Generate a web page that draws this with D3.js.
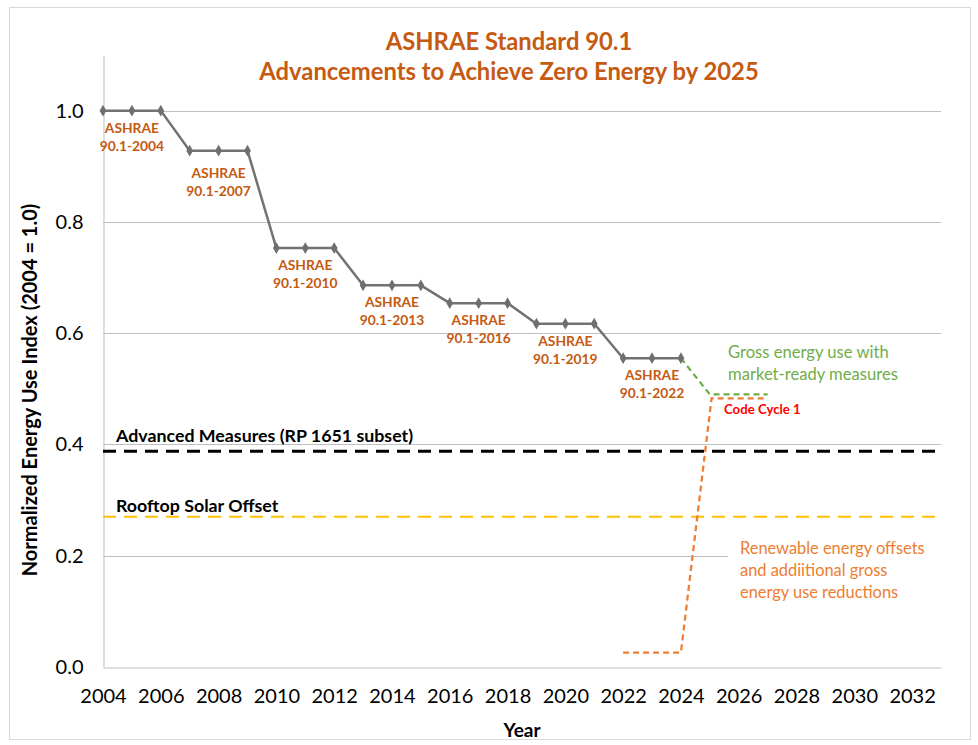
<!DOCTYPE html>
<html>
<head>
<meta charset="utf-8">
<script src="https://cdn.jsdelivr.net/npm/d3@7"></script>
<style>
  body { margin: 0; background: #fff; }
  svg { display: block; font-family: Lato, "Open Sans", sans-serif; }
</style>
</head>
<body>
<svg width="978" height="745"></svg>
<script>
// ASHRAE 90.1 stepped index, one point per year
var years = [2004, 2005, 2006, 2007, 2008, 2009, 2010, 2011, 2012, 2013, 2014,
             2015, 2016, 2017, 2018, 2019, 2020, 2021, 2022, 2023, 2024];
var euiValues = [1.0, 1.0, 1.0, 0.928, 0.928, 0.928, 0.753, 0.753, 0.753,
                 0.686, 0.686, 0.686, 0.654, 0.654, 0.654, 0.617, 0.617, 0.617,
                 0.555, 0.555, 0.555];

// standard labels, placed under the middle year of each step
var standardNames = ["90.1-2004", "90.1-2007", "90.1-2010", "90.1-2013",
                     "90.1-2016", "90.1-2019", "90.1-2022"];
var standardYears = [2005, 2008, 2011, 2014, 2017, 2020, 2023];
var standardValues = [1.0, 0.928, 0.753, 0.686, 0.654, 0.617, 0.555];

// gross energy use with market-ready measures (green)
var grossYears = [2024, 2025, 2027];
var grossValues = [0.555, 0.490, 0.490];

// renewable offsets (orange)
var offsetYears = [2022, 2024, 2025.06, 2026.9];
var offsetValues = [0.026, 0.026, 0.483, 0.483];

// horizontal reference lines
var advancedValue = 0.388;
var solarValue = 0.27;

var xTicks = [2004, 2006, 2008, 2010, 2012, 2014, 2016, 2018, 2020, 2022,
              2024, 2026, 2028, 2030, 2032];
var yTicks = [0, 0.2, 0.4, 0.6, 0.8, 1.0];

(() => {
    var svg = d3.select("svg");
    var margin = { top: 55, bottom: 78, left: 103, right: 37 };
    var width = 978, height = 745;

    var x = d3.scaleLinear().domain([2004, 2033]).range([margin.left, width - margin.right]);
    var y = d3.scaleLinear().domain([0, 1.1]).range([height - margin.bottom, margin.top]);

    var orange = "#C55A11";

    // chart border
    svg.append("rect")
        .attr("x", 9.5).attr("y", 7.5)
        .attr("width", 961).attr("height", 732)
        .attr("fill", "none")
        .attr("stroke", "#D9D9D9");

    // gridlines
    svg.append("g")
        .selectAll("line")
        .data(yTicks.filter(function (d) { return d > 0; }))
        .enter().append("line")
        .attr("x1", x(2004)).attr("x2", x(2033))
        .attr("y1", function (d) { return Math.round(y(d)) + 0.5; })
        .attr("y2", function (d) { return Math.round(y(d)) + 0.5; })
        .attr("stroke", "#BFBFBF")
        .attr("stroke-width", 1);

    // X axis
    var xAxis = svg.append("g")
        .attr("transform", "translate(0," + (Math.round(y(0)) + 0.5) + ")")
        .call(d3.axisBottom(x).tickValues(xTicks).tickFormat(d3.format("d")).tickSize(0).tickPadding(21));
    xAxis.select(".domain").attr("stroke", "#BFBFBF");
    xAxis.selectAll("text").attr("font-size", "20px").attr("fill", "#000")
        .attr("font-family", "Lato");

    // Y axis
    var yAxis = svg.append("g")
        .attr("transform", "translate(" + (Math.round(x(2004)) + 0.5) + ",0)")
        .call(d3.axisLeft(y).tickValues(yTicks).tickFormat(d3.format(".1f")).tickSize(0).tickPadding(20));
    yAxis.select(".domain").attr("stroke", "#BFBFBF");
    yAxis.selectAll("text").attr("font-size", "20px").attr("fill", "#000")
        .attr("font-family", "Lato");

    // reference lines
    svg.append("line")
        .attr("x1", x(2004)).attr("x2", x(2033))
        .attr("y1", y(advancedValue)).attr("y2", y(advancedValue))
        .attr("stroke", "#000").attr("stroke-width", 3)
        .attr("stroke-dasharray", "13,8");
    svg.append("line")
        .attr("x1", x(2004)).attr("x2", x(2033))
        .attr("y1", y(solarValue)).attr("y2", y(solarValue))
        .attr("stroke", "#FFC000").attr("stroke-width", 2)
        .attr("stroke-dasharray", "13,8");

    svg.append("text")
        .attr("x", 116).attr("y", y(advancedValue) - 9)
        .attr("font-size", "17.8px").attr("font-weight", "bold")
        .text("Advanced Measures (RP 1651 subset)");
    svg.append("text")
        .attr("x", 116).attr("y", y(solarValue) - 5)
        .attr("font-size", "17.8px").attr("font-weight", "bold")
        .text("Rooftop Solar Offset");

    // white box behind renewable text (hides gridline as in the original)
    svg.append("rect")
        .attr("x", 728).attr("y", 535)
        .attr("width", 220).attr("height", 72)
        .attr("fill", "#fff");

    var line = d3.line()
        .x(function (d) { return x(d[0]); })
        .y(function (d) { return y(d[1]); });

    // green dashed
    svg.append("path")
        .datum(d3.zip(grossYears, grossValues))
        .attr("d", line)
        .attr("fill", "none")
        .attr("stroke", "#70AD47").attr("stroke-width", 2.25)
        .attr("stroke-dasharray", "6,4");

    // orange dashed
    svg.append("path")
        .datum(d3.zip(offsetYears, offsetValues))
        .attr("d", line)
        .attr("fill", "none")
        .attr("stroke", "#ED7D31").attr("stroke-width", 2.25)
        .attr("stroke-dasharray", "6,4");

    // main stepped line
    svg.append("path")
        .datum(d3.zip(years, euiValues))
        .attr("d", line)
        .attr("fill", "none")
        .attr("stroke", "#767171").attr("stroke-width", 2.5)
        .attr("stroke-linejoin", "round");

    svg.selectAll(".pt")
        .data(d3.zip(years, euiValues))
        .enter().append("path")
        .attr("class", "pt")
        .attr("d", d3.symbol().type(d3.symbolDiamond).size(40))
        .attr("transform", function (d) { return "translate(" + x(d[0]) + "," + y(d[1]) + ")"; })
        .attr("fill", "#6F6F6F");

    // standard labels
    var labels = svg.append("g")
        .attr("font-size", "13.8px")
        .attr("font-weight", "bold")
        .attr("fill", orange)
        .attr("text-anchor", "middle");
    standardNames.forEach(function (name, i) {
        var cx = x(standardYears[i]);
        var cy = y(standardValues[i]) + (i === 1 ? 22 : 17);
        var t = labels.append("text").attr("x", cx).attr("y", cy + 5);
        t.append("tspan").attr("x", cx).text("ASHRAE");
        t.append("tspan").attr("x", cx).attr("dy", 18).text(name);
    });

    // annotation texts
    var gross = svg.append("text")
        .attr("font-size", "16.6px").attr("fill", "#70AD47");
    gross.append("tspan").attr("x", 728).attr("y", 358).text("Gross energy use with");
    gross.append("tspan").attr("x", 728).attr("y", 380).text("market-ready measures");

    svg.append("text")
        .attr("x", 724).attr("y", 414)
        .attr("font-size", "13.2px").attr("font-weight", "bold")
        .attr("fill", "#FF0000")
        .text("Code Cycle 1");

    var renew = svg.append("text")
        .attr("font-size", "16.4px").attr("fill", "#ED7D31");
    renew.append("tspan").attr("x", 740).attr("y", 554).text("Renewable energy offsets");
    renew.append("tspan").attr("x", 740).attr("y", 576).text("and addiitional gross");
    renew.append("tspan").attr("x", 740).attr("y", 598).text("energy use reductions");

    // title
    var title = svg.append("text")
        .attr("text-anchor", "middle")
        .attr("font-size", "23.8px").attr("font-weight", "bold")
        .attr("fill", orange);
    title.append("tspan").attr("x", 509).attr("y", 50).text("ASHRAE Standard 90.1");
    title.append("tspan").attr("x", 509).attr("y", 80).text("Advancements to Achieve Zero Energy by 2025");

    // axis titles
    svg.append("text")
        .attr("x", 522).attr("y", 737)
        .attr("text-anchor", "middle")
        .attr("font-size", "19px").attr("font-weight", "bold")
        .text("Year");

    svg.append("text")
        .attr("transform", "translate(37,390) rotate(-90)")
        .attr("text-anchor", "middle")
        .attr("font-size", "20px").attr("font-weight", "bold")
        .text("Normalized Energy Use Index (2004 = 1.0)");
})();
</script>
</body>
</html>
